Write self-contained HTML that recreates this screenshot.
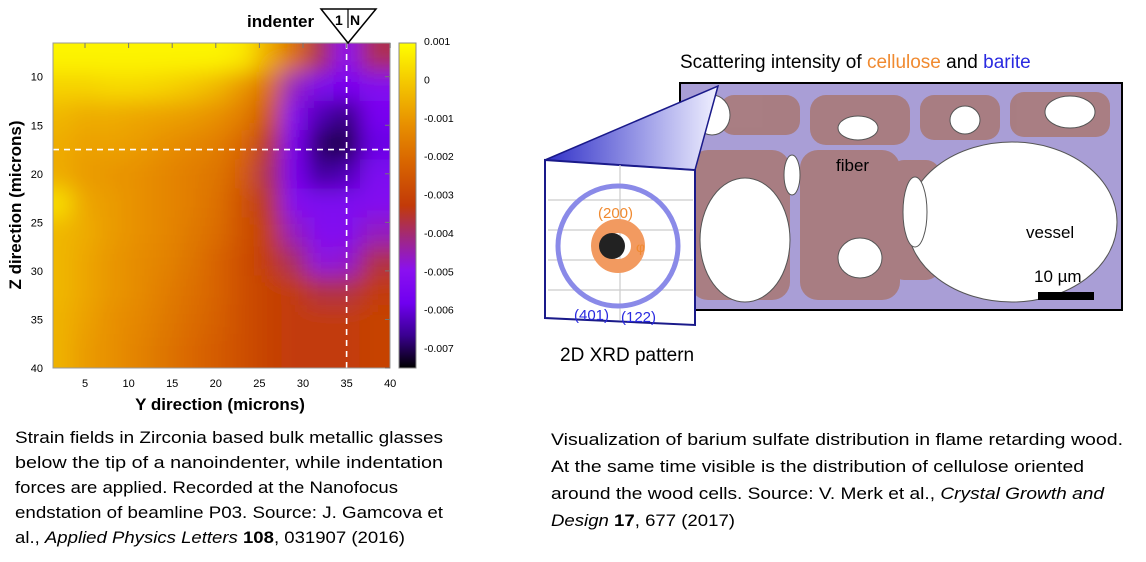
<!DOCTYPE html>
<html><head><meta charset="utf-8">
<style>
body{margin:0;background:#fff;width:1146px;height:562px;overflow:hidden;font-family:"Liberation Sans",sans-serif;}
</style></head>
<body>
<svg id="chart" width="1146" height="562" style="position:absolute;left:0;top:0" font-family="Liberation Sans, sans-serif">
<defs>
<filter id="blur" x="-10%" y="-10%" width="120%" height="120%"><feGaussianBlur stdDeviation="11"/></filter>
<clipPath id="plotclip"><rect x="53" y="43" width="337" height="325"/></clipPath>
<linearGradient id="cbar" x1="0" y1="0" x2="0" y2="1">
<stop offset="0" stop-color="#ffff00"/><stop offset="0.12" stop-color="#f4c800"/>
<stop offset="0.25" stop-color="#e89000"/><stop offset="0.37" stop-color="#d86400"/>
<stop offset="0.5" stop-color="#c23a08"/><stop offset="0.6" stop-color="#a02880"/>
<stop offset="0.7" stop-color="#8a10f0"/><stop offset="0.8" stop-color="#7000f0"/>
<stop offset="0.9" stop-color="#3a0090"/><stop offset="1" stop-color="#000000"/>
</linearGradient>
<linearGradient id="wedge" x1="0" y1="0" x2="1" y2="0">
<stop offset="0" stop-color="#3030c8"/><stop offset="1" stop-color="#f0f0ff"/>
</linearGradient>
</defs>
<g id="heat" clip-path="url(#plotclip)"><g id="cells" filter="url(#blur)"></g></g>
<rect x="53" y="43" width="337" height="325" fill="none" stroke="#999" stroke-width="1"/>
<g id="axes"></g>
<rect x="399" y="43" width="17" height="325" fill="url(#cbar)" stroke="#888"/>
<text x="220" y="410" font-size="17" font-weight="bold" text-anchor="middle">Y direction (microns)</text>
<text transform="translate(21,205) rotate(-90)" font-size="17" font-weight="bold" text-anchor="middle">Z direction (microns)</text>
<text x="247" y="27" font-size="17" font-weight="bold">indenter</text>
<g>
<polygon points="321,9 376,9 348,43" fill="#fff" stroke="#000" stroke-width="1.5"/>
<line x1="348" y1="9" x2="348" y2="28" stroke="#000" stroke-width="1.2"/>
<text x="335" y="25" font-size="14" font-weight="bold">1</text>
<text x="350" y="25" font-size="14" font-weight="bold">N</text>
</g>

<!-- right panel -->
<text x="680" y="68" font-size="19">Scattering intensity of <tspan fill="#f08a30">cellulose</tspan> and <tspan fill="#2a2ae0">barite</tspan></text>
<g>
<rect x="680" y="83" width="442" height="227" fill="#a99ed6" stroke="#000" stroke-width="2"/>
<g fill="#a87a7a" opacity="0.9">
<rect x="720" y="95" width="80" height="40" rx="14"/>
<rect x="810" y="95" width="100" height="50" rx="16"/>
<rect x="920" y="95" width="80" height="45" rx="14"/>
<rect x="1010" y="92" width="100" height="45" rx="14"/>
<rect x="800" y="150" width="100" height="150" rx="18"/>
<rect x="690" y="150" width="100" height="150" rx="18"/>
<rect x="890" y="160" width="50" height="120" rx="14"/>
</g>
<g fill="#fff" stroke="#555" stroke-width="1">
<ellipse cx="1012" cy="222" rx="105" ry="80"/>
<ellipse cx="745" cy="240" rx="45" ry="62"/>
<ellipse cx="712" cy="115" rx="18" ry="20"/>
<ellipse cx="858" cy="128" rx="20" ry="12"/>
<ellipse cx="965" cy="120" rx="15" ry="14"/>
<ellipse cx="1070" cy="112" rx="25" ry="16"/>
<ellipse cx="915" cy="212" rx="12" ry="35"/>
<ellipse cx="860" cy="258" rx="22" ry="20"/>
<ellipse cx="792" cy="175" rx="8" ry="20"/>
</g>
<rect x="1038" y="292" width="56" height="8" fill="#000"/>
<text x="836" y="171" font-size="17">fiber</text>
<text x="1026" y="238" font-size="17">vessel</text>
<text x="1034" y="282" font-size="17">10 µm</text>
</g>
<polygon points="545,160 718,86 695,170 545,160" fill="url(#wedge)" stroke="#1a1a8a" stroke-width="1.5"/>
<g>
<polygon points="545,160 695,170 695,325 545,318" fill="#fff" stroke="#1a1a8a" stroke-width="2"/>
<g stroke="#ccc" stroke-width="1.2">
<line x1="548" y1="200" x2="693" y2="200"/><line x1="548" y1="230" x2="693" y2="230"/>
<line x1="548" y1="260" x2="693" y2="260"/><line x1="548" y1="290" x2="693" y2="290"/>
<line x1="620" y1="165" x2="620" y2="320"/>
</g>
<circle cx="618" cy="246" r="60" fill="none" stroke="#8a8ae8" stroke-width="5"/>
<circle cx="618" cy="246" r="20" fill="none" stroke="#f29a60" stroke-width="14"/>
<circle cx="612" cy="246" r="13" fill="#222"/>
<text x="598" y="218" font-size="15" fill="#f08a30">(200)</text>
<text x="636" y="252" font-size="14" fill="#f08a30">φ</text>
<text x="574" y="320" font-size="15" fill="#2a2ae0">(401)</text>
<text x="621" y="322" font-size="15" fill="#2a2ae0">(122)</text>
</g>
<text x="560" y="361" font-size="19">2D XRD pattern</text>

<g font-size="16.5">
<text x="15" y="443" textLength="428" lengthAdjust="spacingAndGlyphs">Strain fields in Zirconia based bulk metallic glasses</text>
<text x="15" y="468" textLength="428" lengthAdjust="spacingAndGlyphs">below the tip of a nanoindenter, while indentation</text>
<text x="15" y="493" textLength="383" lengthAdjust="spacingAndGlyphs">forces are applied. Recorded at the Nanofocus</text>
<text x="15" y="518" textLength="428" lengthAdjust="spacingAndGlyphs">endstation of beamline P03. Source: J. Gamcova et</text>
<text x="15" y="543" textLength="390" lengthAdjust="spacingAndGlyphs">al., <tspan font-style="italic">Applied Physics Letters</tspan> <tspan font-weight="bold">108</tspan>, 031907 (2016)</text>
</g>
<g font-size="16.5">
<text x="551" y="445" textLength="572" lengthAdjust="spacingAndGlyphs">Visualization of barium sulfate distribution in flame retarding wood.</text>
<text x="551" y="472" textLength="533" lengthAdjust="spacingAndGlyphs">At the same time visible is the distribution of cellulose oriented</text>
<text x="551" y="499" textLength="553" lengthAdjust="spacingAndGlyphs">around the wood cells. Source: V. Merk et al., <tspan font-style="italic">Crystal Growth and</tspan></text>
<text x="551" y="526" textLength="184" lengthAdjust="spacingAndGlyphs"><tspan font-style="italic">Design</tspan> <tspan font-weight="bold">17</tspan>, 677 (2017)</text>
</g>
</svg>

<script>
const xCenters=[2,5,8,11,14,17,20,23,26,29,32,35,38];
const zCenters=[8,11,14,17,20,23,26,29,32,35,38];
const strain=[
[0.0008,0.0008,0.0008,0.0008,0.0008,0.0008,0.0008,0.0006,-0.0005,-0.0018,-0.0035,-0.0045,-0.0035],
[0.0002,0.0002,0.0003,0.0003,0.0002,0.0,-0.0003,-0.0009,-0.0018,-0.0042,-0.005,-0.0052,-0.0048],
[-0.0003,-0.0005,-0.0005,-0.0006,-0.0007,-0.0008,-0.001,-0.0014,-0.0024,-0.0048,-0.006,-0.0064,-0.0052],
[-0.0005,-0.0007,-0.0007,-0.0008,-0.001,-0.0012,-0.0014,-0.0019,-0.0032,-0.0052,-0.0066,-0.0068,-0.0056],
[-0.0005,-0.0008,-0.0009,-0.001,-0.0012,-0.0014,-0.0016,-0.0022,-0.0035,-0.0052,-0.0062,-0.006,-0.005],
[0.0004,-0.0006,-0.0008,-0.001,-0.0012,-0.0014,-0.0017,-0.0024,-0.0032,-0.0048,-0.005,-0.005,-0.0048],
[-0.0003,-0.0005,-0.0008,-0.001,-0.0012,-0.0015,-0.0018,-0.0024,-0.003,-0.0042,-0.0048,-0.0048,-0.0042],
[-0.0003,-0.0006,-0.0009,-0.0011,-0.0013,-0.0016,-0.002,-0.0025,-0.003,-0.0036,-0.0044,-0.0043,-0.0034],
[-0.0003,-0.0006,-0.0009,-0.0011,-0.0014,-0.0017,-0.002,-0.0025,-0.0028,-0.003,-0.0034,-0.0034,-0.003],
[-0.0004,-0.0007,-0.001,-0.0012,-0.0015,-0.0018,-0.0021,-0.0025,-0.0028,-0.003,-0.003,-0.003,-0.0028],
[-0.0004,-0.0008,-0.001,-0.0013,-0.0016,-0.0019,-0.0022,-0.0025,-0.0028,-0.003,-0.003,-0.003,-0.0028]];
const xTicks=[5,10,15,20,25,30,35,40];
const zTicks=[10,15,20,25,30,35,40];
const cbTicks=[0.001,0,-0.001,-0.002,-0.003,-0.004,-0.005,-0.006,-0.007];
const cbLabels=["0.001","0","-0.001","-0.002","-0.003","-0.004","-0.005","-0.006","-0.007"];

const NS="http://www.w3.org/2000/svg";
const xs=v=>41.4+v*8.72;
const zs=v=>76.7+(v-10)*9.71;
const cs=v=>41+(0.001-v)/0.008*(348-41);
const stops=[[0.001,[255,255,0]],[0.0,[244,200,0]],[-0.001,[232,144,0]],[-0.002,[216,100,0]],[-0.003,[194,58,8]],[-0.0038,[160,40,128]],[-0.0045,[138,16,240]],[-0.0055,[112,0,240]],[-0.0063,[58,0,144]],[-0.0072,[0,0,0]]];
function color(v){
  if(v>=stops[0][0])return "rgb(255,255,0)";
  for(let i=0;i<stops.length-1;i++){
    const a=stops[i],b=stops[i+1];
    if(v<=a[0]&&v>=b[0]){const t=(a[0]-v)/(a[0]-b[0]);
      return "rgb("+a[1].map((c,k)=>Math.round(c+(b[1][k]-c)*t)).join(",")+")";}
  }
  return "rgb(0,0,0)";
}
const cells=document.getElementById('cells');
zCenters.forEach((z,r)=>xCenters.forEach((x,c)=>{
  const el=document.createElementNS(NS,'rect');
  
  
  const x0=xs(x-1.5)-(c===0?40:0), x1=xs(x+1.5)+(c===xCenters.length-1?40:0);
  const y0=zs(z-1.5)-(r===0?40:0), y1=zs(z+1.5)+(r===zCenters.length-1?40:0);
  el.setAttribute('x',x0);el.setAttribute('y',y0);
  el.setAttribute('width',x1-x0+0.5);el.setAttribute('height',y1-y0+0.5);
  el.setAttribute('fill',color(strain[r][c]));
  cells.appendChild(el);
}));
const heat=document.getElementById('heat');
const indX=35, indZ=17.5;
const vl=document.createElementNS(NS,'line');


vl.setAttribute('x1',xs(indX));vl.setAttribute('x2',xs(indX));vl.setAttribute('y1',43);vl.setAttribute('y2',368);
vl.setAttribute('stroke','#fff');vl.setAttribute('stroke-width','1.6');vl.setAttribute('stroke-dasharray','6,5');
heat.appendChild(vl);
const hl=document.createElementNS(NS,'line');


hl.setAttribute('x1',53);hl.setAttribute('x2',390);hl.setAttribute('y1',zs(indZ));hl.setAttribute('y2',zs(indZ));
hl.setAttribute('stroke','#fff');hl.setAttribute('stroke-width','1.6');hl.setAttribute('stroke-dasharray','6,5');
heat.appendChild(hl);
const axes=document.getElementById('axes');
xTicks.forEach(t=>{
  const tx=document.createElementNS(NS,'text');
  
  
  tx.setAttribute('x',xs(t));tx.setAttribute('y',387);tx.setAttribute('font-size','11');tx.setAttribute('text-anchor','middle');
  tx.textContent=t;axes.appendChild(tx);
  const tk=document.createElementNS(NS,'line');
  
  
  tk.setAttribute('x1',xs(t));tk.setAttribute('x2',xs(t));tk.setAttribute('y1',43);tk.setAttribute('y2',48);tk.setAttribute('stroke','#777');
  axes.appendChild(tk);
});
zTicks.forEach(t=>{
  const tx=document.createElementNS(NS,'text');
  
  
  tx.setAttribute('x',43);tx.setAttribute('y',zs(t)+4);tx.setAttribute('font-size','11');tx.setAttribute('text-anchor','end');
  tx.textContent=t;axes.appendChild(tx);
  const tk=document.createElementNS(NS,'line');
  
  
  tk.setAttribute('x1',385);tk.setAttribute('x2',390);tk.setAttribute('y1',zs(t));tk.setAttribute('y2',zs(t));tk.setAttribute('stroke','#777');
  axes.appendChild(tk);
});
cbTicks.forEach((t,i)=>{
  const tx=document.createElementNS(NS,'text');
  
  
  tx.setAttribute('x',424);tx.setAttribute('y',cs(t)+4);tx.setAttribute('font-size','10.5');
  tx.textContent=cbLabels[i];axes.appendChild(tx);
});
</script>
</body></html>
